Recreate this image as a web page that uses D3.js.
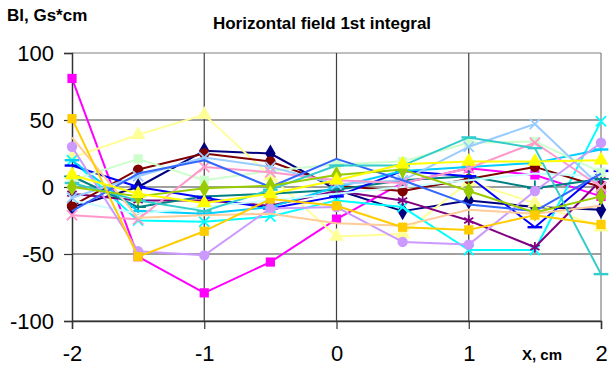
<!DOCTYPE html>
<meta charset="utf-8">
<style>
body { margin: 0; background: #fff; font-family: 'Liberation Sans', Arial, sans-serif; }
.lbl { font-size: 22px; fill: #000; }
.bold { font-size: 17px; font-weight: bold; fill: #000; }
.xt { font-size: 15px; font-weight: bold; fill: #000; }
</style>
<body>
<script src="https://cdn.jsdelivr.net/npm/d3@7"></script>
<script>
"use strict";

// x positions, cm
var xValues = [-2, -1.5, -1, -0.5, 0, 0.5, 1, 1.5, 2];
var xTicks = [-2, -1, 0, 1, 2];
var yTicks = [-100, -50, 0, 50, 100];

// BI values, Gs*cm
var s01 = [-15, 0, 27, 25, -2, -18, -10, -15, -17];
var s02 = [81, -52, -79, -56, -24, 3, 14, 9, -7];
var s03 = [22, 39, 54, 8, -37, -35, 4, -12, -30];
var s04 = [20, -25, -26, -22, -10, -15, -47, -47, 49];
var s05 = [-5, -10, -10, -14, -3, -10, -25, -45, 5];
var s06 = [-14, 13, 25, 19, 1, -3, 6, 15, 0];
var s07 = [8, -15, -7, -5, -2, 5, 8, -1, 6];
var s08 = [16, 0, -8, -16, -7, 12, 8, -30, 12];
var s09 = [20, -18, -20, -15, 0, 12, 15, 18, 28];
var s10 = [-10, -20, -15, -10, -5, 0, 5, 10, 8];
var s11 = [5, 21, 5, 12, 17, 19, 33, 34, 11];
var s12 = [-8, 8, 22, 15, 2, 5, 30, 47, 0];
var s13 = [-21, -24, 15, 11, 5, 3, 14, 33, 0];
var s14 = [30, -48, -51, -16, -15, -41, -43, -3, 33];
var s15 = [37, -23, -21, -20, -27, -29, -17, -20, -14];
var s16 = [-18, 10, 20, 0, 21, 5, -13, -18, 10];
var s17 = [3, -10, -18, -2, 16, 16, 37, 29, -65];
var s18 = [0, -7, -1, 1, 9, 13, -3, -19, -7];
var s19 = [51, -52, -33, -9, -14, -30, -32, -21, -28];
var s20 = [9, -5, -12, -5, 5, 17, 19, 19, 20];

var allSeries = [s01, s02, s03, s04, s05, s06, s07, s08, s09, s10,
                 s11, s12, s13, s14, s15, s16, s17, s18, s19, s20];

// look of each series (same order)
var colors = ["#000080", "#FF00FF", "#FFFF99", "#00FFFF", "#800080", "#800000", "#008080",
              "#0000FF", "#00CCFF", "#CCFFFF", "#CCFFCC", "#99CCFF", "#FF99CC", "#CC99FF",
              "#FFCC99", "#3366FF", "#33CCCC", "#99CC00", "#FFCC00", "#FFFF00"];
var markers = ["diamond", "square", "triangle", "times", "star", "circle", "plus",
               "dash", "dash", "none", "square", "times", "times", "circle",
               "none", "none", "dash", "diamond", "square", "triangle"];

var W = 609, H = 366;
var svg = d3.select("body").append("svg").attr("width", W).attr("height", H);

var x = d3.scaleLinear().domain([-2, 2]).range([72, 601]);
var y = d3.scaleLinear().domain([-100, 100]).range([321, 53]);

// grid
svg.selectAll(".hg").data(yTicks).enter().append("line")
  .attr("x1", x(-2)).attr("x2", x(2))
  .attr("y1", d => y(d)).attr("y2", d => y(d))
  .attr("stroke", d => d === 100 ? "#808080" : "#404040").attr("stroke-width", 1.2);
svg.selectAll(".vg").data(xTicks.slice(1)).enter().append("line")
  .attr("x1", d => x(d)).attr("x2", d => x(d))
  .attr("y1", y(100)).attr("y2", y(-100))
  .attr("stroke", d => d === 2 ? "#808080" : "#404040").attr("stroke-width", 1.2);

// axes
var yAxis = d3.axisLeft(y).tickValues(yTicks).tickSize(8).tickFormat(d3.format("d"));
var gy = svg.append("g").attr("transform", "translate(" + x(-2) + ",0)").call(yAxis);
var xAxis = d3.axisBottom(x).tickValues(xTicks).tickSize(8).tickFormat(d3.format("d"));
var gx = svg.append("g").attr("transform", "translate(0," + y(-100) + ")").call(xAxis);
[gy, gx].forEach(g => {
  g.select(".domain").attr("stroke", "#333").attr("stroke-width", 1.5);
  g.selectAll(".tick line").attr("stroke", "#333").attr("stroke-width", 1.2);
  g.selectAll("text").attr("class", "lbl").attr("font-family", null).attr("font-size", null)
    .text(d => d < 0 ? "-" + Math.abs(d) : d);
});
gy.selectAll("text").attr("x", -18).attr("dy", "0.36em");
gx.selectAll("text").attr("y", 24).attr("dy", "0.71em");

// custom dash marker
var symbolDash = {
  draw: function(ctx, size) {
    var w = Math.sqrt(size) * 0.7;
    ctx.moveTo(-w, -1.2); ctx.lineTo(w, -1.2); ctx.lineTo(w, 1.2); ctx.lineTo(-w, 1.2); ctx.closePath();
  }
};
var symbolTypes = {
  diamond: [d3.symbolDiamond, 95, true],
  square: [d3.symbolSquare, 85, true],
  triangle: [d3.symbolTriangle, 95, true],
  circle: [d3.symbolCircle, 85, true],
  dash: [symbolDash, 110, true],
  times: [d3.symbolTimes, 70, false],
  plus: [d3.symbolPlus, 80, false],
  star: [d3.symbolAsterisk, 80, false]
};

var line = d3.line().x((d, i) => x(xValues[i])).y(d => y(d));

allSeries.forEach(function(vals, k) {
  var g = svg.append("g");
  g.append("path").datum(vals)
    .attr("d", line)
    .attr("fill", "none")
    .attr("stroke", colors[k])
    .attr("stroke-width", 2)
    .attr("stroke-linejoin", "round");
  var m = symbolTypes[markers[k]];
  if (!m) return;
  g.selectAll("path.mk").data(vals).enter().append("path")
    .attr("class", "mk")
    .attr("transform", (d, i) => "translate(" + x(xValues[i]) + "," + y(d) + ")")
    .attr("d", d3.symbol().type(m[0]).size(m[1]))
    .attr("fill", m[2] ? colors[k] : "none")
    .attr("stroke", colors[k])
    .attr("stroke-width", m[2] ? 0 : 1.8);
});

// titles
svg.append("text").attr("class", "bold").attr("x", 7).attr("y", 21).text("Bl, Gs*cm");
svg.append("text").attr("class", "bold").attr("x", 322).attr("y", 29)
  .attr("text-anchor", "middle").text("Horizontal field 1st integral");
svg.append("text").attr("class", "xt").attr("x", 542).attr("y", 360)
  .attr("text-anchor", "middle").text("X, cm");
</script>
</body>
